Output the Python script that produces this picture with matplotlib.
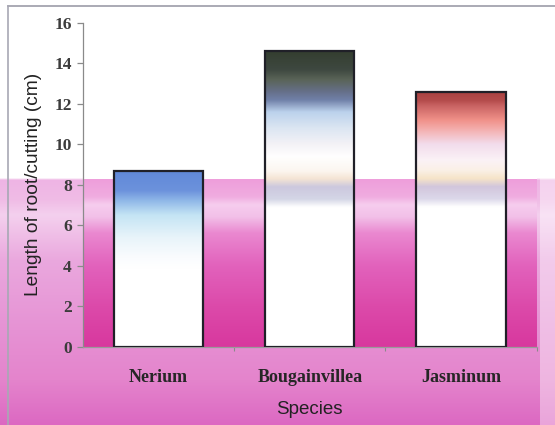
import numpy as np
import matplotlib
matplotlib.use("Agg")
import matplotlib.pyplot as plt
from matplotlib.colors import to_rgb
from matplotlib.patches import Rectangle
from matplotlib.lines import Line2D

# Data
species = ["Nerium", "Bougainvillea", "Jasminum"]
root_length = [8.7, 14.6, 12.6]
y_ticks = [0, 2, 4, 6, 8, 10, 12, 14, 16]

# Colour stops for each bar: (distance below bar top in cm, colour)
bar_stops = [
    [(0.0, "#6088d8"), (1.0, "#6c92dc"), (1.5, "#90b8e8"), (2.2, "#c4e4f4"),
     (3.3, "#e8f4fa"), (4.3, "#fafcfe"), (4.8, "#ffffff")],
    [(0.0, "#343e30"), (0.9, "#3e4840"), (1.4, "#5a6458"), (2.0, "#66708a"),
     (2.4, "#7080a8"), (3.0, "#bcd2ec"), (3.8, "#dce6f2"), (4.6, "#f4f2f6"),
     (5.2, "#ffffff"), (5.9, "#fcf6f0"), (6.3, "#f4e4d4"), (6.7, "#ccc8de"),
     (7.3, "#d4d6e6"), (7.7, "#ffffff")],
    [(0.0, "#a84040"), (0.45, "#b44c4c"), (0.7, "#c86262"), (1.4, "#f09088"),
     (1.9, "#f4b0b0"), (2.6, "#f2dcec"), (3.4, "#fbf2f6"), (3.9, "#faf0e6"),
     (4.3, "#f6e4c8"), (4.7, "#d2c6dc"), (5.3, "#dcd8ea"), (5.7, "#ffffff")],
]

# Pink backdrop stops inside the plot area (value in cm, colour)
plot_bg_stops = [(8.25, "#ee9edb"), (7.4, "#f0ace0"), (7.0, "#f6cdee"),
                 (6.4, "#f2c0e8"), (5.6, "#ea88d0"), (4.0, "#e262bc"),
                 (2.0, "#dc4aaa"), (0.0, "#d8389e")]

# Figure backdrop stops (pixel row from top, colour)
fig_bg_stops = [(0, "#ffffff"), (178, "#ffffff"), (180, "#eeb4e4"),
                (200, "#f0bce6"), (215, "#f4d0ee"), (260, "#eaa8de"),
                (330, "#e692d4"), (380, "#e484cc"), (425, "#dc68c2")]

W, H = 555, 425
fig = plt.figure(figsize=(W / 100, H / 100), dpi=100)


def column_from_stops(stops, coords):
    pos = np.array([s[0] for s in stops], dtype=float)
    cols = np.array([to_rgb(s[1]) for s in stops])
    order = np.argsort(pos)
    pos, cols = pos[order], cols[order]
    return np.stack([np.interp(coords, pos, cols[:, k]) for k in range(3)], axis=-1)


# Figure-level backdrop
bg = fig.add_axes([0, 0, 1, 1], zorder=0)
rows = np.arange(H) + 0.5
col = column_from_stops(fig_bg_stops, rows)
img = np.repeat(col[:, None, :], W, axis=1)
# lighter strip to the right of the chart
img[:, 540:, :] = img[:, 540:, :] * 0.6 + 0.4
bg.imshow(img, extent=[0, W, H, 0], aspect="auto", interpolation="bilinear")
bg.set_xlim(0, W)
bg.set_ylim(H, 0)
bg.axis("off")
bg.add_line(Line2D([8, W], [6, 6], color="#9c9ca8", lw=1.2))
bg.add_line(Line2D([8, 8], [6, H], color="#a8a8b4", lw=1.2))

# Main plot
ax = fig.add_axes([83 / W, 1 - 346.7 / H, (536.7 - 83) / W, (346.7 - 22.7) / H], zorder=1)
ax.set_facecolor("white")
x = np.arange(len(species))

yy = np.linspace(0, 8.25, 300)
pcol = column_from_stops(plot_bg_stops, yy)
ax.imshow(pcol[:, None, :], extent=[-0.5, len(species) - 0.5, 0, 8.25],
          origin="lower", aspect="auto", interpolation="bilinear", zorder=0)

width = 0.59
bars = ax.bar(x, root_length, width=width, facecolor="none",
              edgecolor="#202028", linewidth=1.6, zorder=3)
for bar, h, stops in zip(bars, root_length, bar_stops):
    ys = np.linspace(0, h, 400)
    c = column_from_stops(stops, h - ys)
    x0 = bar.get_x()
    im = ax.imshow(c[:, None, :], extent=[x0, x0 + width, 0, h], origin="lower",
                   aspect="auto", interpolation="bilinear", zorder=2)
    im.set_clip_path(Rectangle((x0, 0), width, h, transform=ax.transData))

ax.set_xlim(-0.5, len(species) - 0.5)
ax.set_ylim(0, 16)

for side in ["top", "right"]:
    ax.spines[side].set_visible(False)
ax.spines["left"].set_color("#8a8a8a")
ax.spines["left"].set_linewidth(0.9)
ax.spines["bottom"].set_color("#9a9a9a")
ax.spines["bottom"].set_linewidth(0.9)

ax.set_yticks(y_ticks)
ax.set_yticklabels([str(v) for v in y_ticks], family="Liberation Serif",
                   fontweight="bold", fontsize=12.5, color="#3c3c3c")
ax.tick_params(axis="y", direction="out", length=4, width=0.9, color="#8a8a8a", pad=4)

ax.set_xticks(x)
ax.set_xticklabels(species, family="Liberation Serif", fontweight="bold",
                   fontsize=13, color="#262626")
ax.tick_params(axis="x", length=0, pad=16)
ax.set_xticks(np.arange(0.5, len(species), 1.0), minor=True)
ax.tick_params(axis="x", which="minor", direction="out", length=3, width=0.8,
               color="#8a8a8a")

ax.set_ylabel("Length of root/cutting (cm)", family="Liberation Sans",
              fontsize=13.8, color="#222222", labelpad=9)
ax.set_xlabel("Species", family="Liberation Sans", fontsize=13.5,
              color="#222222", labelpad=11)

fig.savefig("out.png", dpi=100)
